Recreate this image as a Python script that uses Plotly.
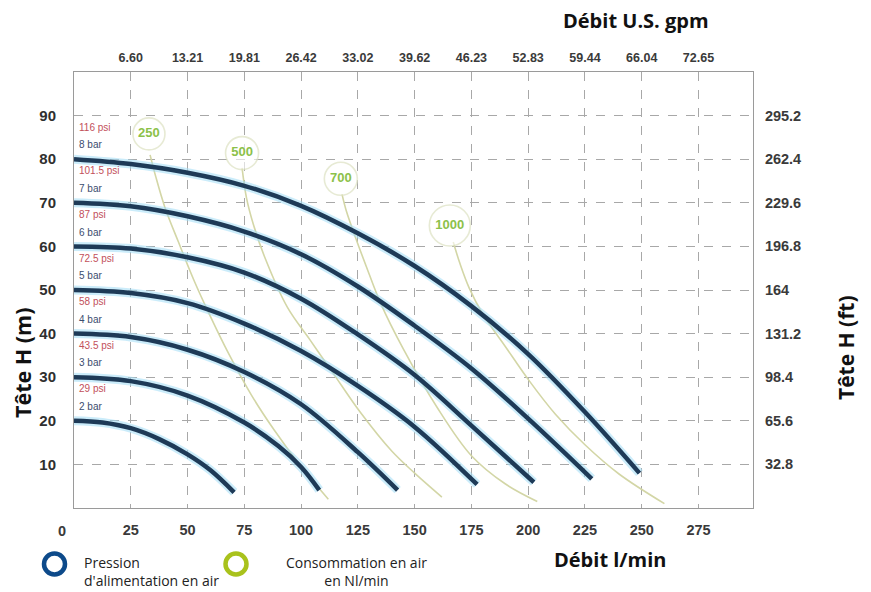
import plotly.graph_objects as go

# ---------------- data ----------------
flow_ticks = [25, 50, 75, 100, 125, 150, 175, 200, 225, 250, 275]
gpm_labels = ["6.60", "13.21", "19.81", "26.42", "33.02", "39.62", "46.23",
              "52.83", "59.44", "66.04", "72.65"]
head_ticks = [10, 20, 30, 40, 50, 60, 70, 80, 90]
ft_labels = ["32.8", "65.6", "98.4", "131.2", "164", "196.8", "229.6", "262.4", "295.2"]

bar_labels = ["2 bar", "3 bar", "4 bar", "5 bar", "6 bar", "7 bar", "8 bar"]
psi_labels = ["29 psi", "43.5 psi", "58 psi", "72.5 psi", "87 psi", "101.5 psi", "116 psi"]
start_heads = [20, 30, 40, 50, 60, 70, 80]

q_2bar = [0, 12.5, 25, 37.5, 50, 60, 70.5]
h_2bar = [20, 19.6, 18.3, 15.8, 12.3, 8.7, 3.6]
q_3bar = [0, 25, 50, 75, 90, 100, 108]
h_3bar = [30, 29.1, 25.8, 19.6, 14.2, 9.4, 4.1]
q_4bar = [0, 25, 50, 75, 100, 125, 142.5]
h_4bar = [40, 39.2, 36.3, 31.2, 23.8, 12.8, 4.1]
q_5bar = [0, 25, 50, 75, 100, 125, 150, 177.5]
h_5bar = [50, 49.3, 47, 42.3, 36, 28, 18.6, 5.4]
q_6bar = [0, 25, 50, 75, 100, 125, 150, 175, 202.5]
h_6bar = [60, 59.5, 57.5, 54, 48, 39.8, 30.5, 18.9, 5.9]
q_7bar = [0, 25, 50, 75, 100, 125, 150, 175, 200, 228]
h_7bar = [70, 69.2, 66.9, 63.4, 58.2, 50.8, 41.8, 32, 20.5, 6.7]
q_8bar = [0, 25, 50, 75, 100, 125, 150, 175, 200, 225, 249]
h_8bar = [80, 78.9, 76.9, 73.9, 69.3, 63, 55.5, 46.3, 35.3, 22, 8]

q_250 = [33.5, 36, 40, 46, 53, 60, 68, 78, 88, 100, 112]
h_250 = [81, 76, 69, 61, 52, 44, 35.5, 26, 18, 9.5, 2]
q_500 = [74, 76, 79, 84, 94, 104, 114, 126, 140, 150, 162]
h_500 = [78, 71, 65, 57.5, 46, 38.5, 31, 22, 13, 8, 2.5]
q_700 = [118, 120, 124, 129, 135, 145, 160, 175, 190, 204]
h_700 = [72, 68, 62, 55, 47, 36.5, 23, 12, 5.5, 1.5]
q_1000 = [167, 170, 174, 180, 190, 200, 212, 225, 240, 260]
h_1000 = [61, 56, 50.5, 44.5, 37, 29.5, 21.5, 14.5, 7.8, 1]

circ_labels = ["250", "500", "700", "1000"]
circ_q = [33, 74, 117.5, 165.5]
circ_h = [85.8, 81.4, 75.5, 64.8]
circ_size = [32, 33, 33, 41]

# ---------------- figure ----------------
NAVY = "#1e3a57"
HALO = "rgba(160,220,245,0.55)"
AIR = "#d3d6a6"

fig = go.Figure()

air_q = [q_250, q_500, q_700, q_1000]
air_h = [h_250, h_500, h_700, h_1000]
for q, h in zip(air_q, air_h):
    fig.add_trace(go.Scatter(x=q, y=h, mode="lines", line=dict(color=AIR, width=1.6, shape="spline"),
                             hoverinfo="skip", showlegend=False))

fig.add_trace(go.Scatter(x=circ_q, y=circ_h, mode="markers+text", text=circ_labels,
                         textposition="middle center",
                         textfont=dict(family="Liberation Sans", size=13, color="#8cc14a", weight="bold"),
                         marker=dict(symbol="circle", size=circ_size, color="rgba(255,255,255,0.85)",
                                     line=dict(color="#dde2c2", width=1.6)),
                         hoverinfo="skip", showlegend=False))

pq = [q_2bar, q_3bar, q_4bar, q_5bar, q_6bar, q_7bar, q_8bar]
ph = [h_2bar, h_3bar, h_4bar, h_5bar, h_6bar, h_7bar, h_8bar]
for q, h in zip(pq, ph):
    fig.add_trace(go.Scatter(x=q, y=h, mode="lines", line=dict(color=HALO, width=9, shape="spline"),
                             hoverinfo="skip", showlegend=False))
for q, h in zip(pq, ph):
    fig.add_trace(go.Scatter(x=q, y=h, mode="lines", line=dict(color=NAVY, width=4.5, shape="spline"),
                             hoverinfo="skip", showlegend=False))

# secondary axes carriers
fig.add_trace(go.Scatter(x=[0], y=[0], xaxis="x2", yaxis="y2", mode="markers",
                         marker=dict(opacity=0), hoverinfo="skip", showlegend=False))

annotations = []
for b, p, h0 in zip(bar_labels, psi_labels, start_heads):
    annotations.append(dict(x=1.5, y=h0 + 7.3, xref="x", yref="y", text=p, showarrow=False,
                            xanchor="left", yanchor="middle",
                            font=dict(family="Liberation Sans", size=10, color="#c2505a")))
    annotations.append(dict(x=1.5, y=h0 + 3.3, xref="x", yref="y", text=b, showarrow=False,
                            xanchor="left", yanchor="middle",
                            font=dict(family="Liberation Sans", size=10, color="#3b4d6e")))

# page body has an 8px margin: the figure is laid out 8px smaller and
# positions below are given in reference-window pixels
OFF = 8
W, H = 871 - OFF, 592 - OFF
L, R, T, B = 74, 753, 72, 508
pw, ph_ = R - L, B - T


def px(x):
    return (x - L) / pw


def py(y):
    return (B - y) / ph_


def note(x, y, text, size, **kw):
    d = dict(x=px(x), y=py(y), xref="paper", yref="paper", text=text, showarrow=False,
             xanchor="center", yanchor="middle",
             font=dict(family="Open Sans", size=size, color="#111"))
    d.update(kw)
    return d


annotations += [
    note(62, 531, "0", 14, font=dict(family="Liberation Sans", size=14.5, color="#3a3a3a", weight="bold")),
    note(610, 559, "<b>Débit l/min</b>", 20),
    note(636, 21, "<b>Débit U.S. gpm</b>", 20),
    note(22, 362, "<b>Tête H (m)</b>", 21.5, textangle=-90),
    note(846, 348, "<b>Tête H (ft)</b>", 21, textangle=-90),
    note(82, 571, "Pression<br>d'alimentation en air", 14, xanchor="left", align="left",
         font=dict(family="Open Sans", size=14, color="#222")),
    note(356, 571, "Consommation en air<br>en Nl/min", 14, align="center",
         font=dict(family="Open Sans", size=14, color="#222")),
]

shapes = [
    dict(type="circle", xref="paper", yref="paper", xsizemode="pixel", ysizemode="pixel",
         xanchor=px(54.5), yanchor=py(564), x0=-10.5, x1=10.5, y0=-10.5, y1=10.5,
         line=dict(color="#0d4a8a", width=4.5)),
    dict(type="circle", xref="paper", yref="paper", xsizemode="pixel", ysizemode="pixel",
         xanchor=px(236), yanchor=py(564), x0=-10.5, x1=10.5, y0=-10.5, y1=10.5,
         line=dict(color="#a9c21c", width=4.5)),
]

grid = dict(showgrid=True, gridcolor="#a8a8a8", gridwidth=1, griddash="dash")

fig.update_layout(
    width=W, height=H,
    margin=dict(l=L - OFF, r=W - (R - OFF), t=T - OFF, b=H - (B - OFF), autoexpand=False),
    paper_bgcolor="white", plot_bgcolor="white",
    showlegend=False,
    annotations=annotations,
    shapes=shapes,
    xaxis=dict(range=[0, 299], tickvals=flow_ticks, ticktext=[str(v) for v in flow_ticks],
               ticks="outside", ticklen=9, tickcolor="rgba(0,0,0,0)",
               tickfont=dict(family="Liberation Sans", size=14.5, color="#3a3a3a", weight="bold"),
               showline=True, linecolor="#9a9a9a", linewidth=1, mirror=True,
               zeroline=False, **grid),
    yaxis=dict(range=[0, 100], tickvals=head_ticks, ticktext=[str(v) for v in head_ticks],
               ticks="outside", ticklen=14, tickcolor="rgba(0,0,0,0)",
               tickfont=dict(family="Liberation Sans", size=15, color="#2f2f2f", weight="bold"),
               showline=True, linecolor="#9a9a9a", linewidth=1, mirror=True,
               zeroline=False, **grid),
    xaxis2=dict(range=[0, 299], overlaying="x", side="top", anchor="y",
                tickvals=flow_ticks, ticktext=gpm_labels,
                ticks="outside", ticklen=4, tickcolor="rgba(0,0,0,0)",
                tickfont=dict(family="Liberation Sans", size=12.5, color="#3a3a3a", weight="bold"),
                showgrid=False, zeroline=False),
    yaxis2=dict(range=[0, 100], overlaying="y", side="right", anchor="x",
                tickvals=head_ticks, ticktext=ft_labels,
                ticks="outside", ticklen=8, tickcolor="rgba(0,0,0,0)",
                tickfont=dict(family="Liberation Sans", size=14.5, color="#3a3a3a", weight="bold"),
                showgrid=False, zeroline=False),
)

fig.write_html("out.html")
